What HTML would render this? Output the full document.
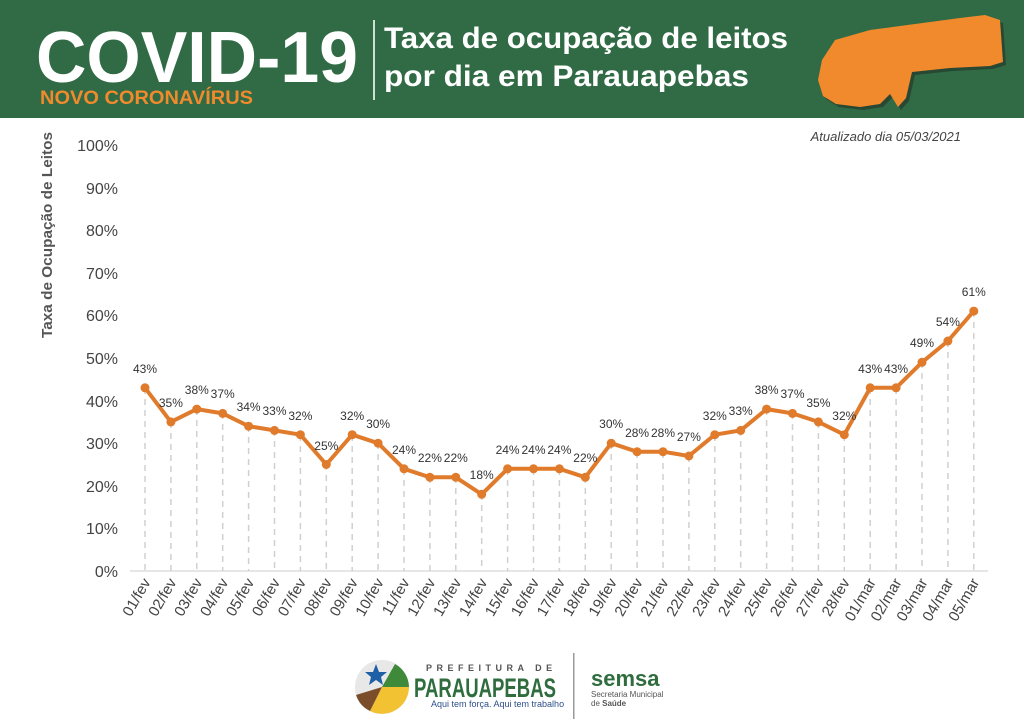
<!DOCTYPE html><html><head><meta charset="utf-8"><style>body{margin:0;width:1024px;height:722px;background:#fff;overflow:hidden;font-family:"Liberation Sans",sans-serif}</style></head><body>
<svg width="1024" height="722" xmlns="http://www.w3.org/2000/svg" font-family="Liberation Sans, sans-serif">
<rect x="0" y="0" width="1024" height="118" fill="#306b45"/>
<text x="36" y="82" font-size="72" font-weight="bold" fill="#fff" textLength="322" lengthAdjust="spacingAndGlyphs">COVID-19</text>
<text x="40" y="104" font-size="19" font-weight="bold" fill="#f08a2c" textLength="213" lengthAdjust="spacingAndGlyphs">NOVO CORONAVÍRUS</text>
<rect x="373" y="20" width="2" height="80" fill="#cfe0d2"/>
<text x="384" y="48" font-size="30" font-weight="bold" fill="#fff" textLength="404" lengthAdjust="spacingAndGlyphs">Taxa de ocupação de leitos</text>
<text x="384" y="86" font-size="30" font-weight="bold" fill="#fff" textLength="365" lengthAdjust="spacingAndGlyphs">por dia em Parauapebas</text>
<polygon points="835,40 870,30 900,26 930,22 960,18 985,15 1000,20 1003,62 990,66 950,68 912,72 906,98 898,107 890,94 880,104 860,107 836,104 823,96 818,80 822,60" fill="#202020" opacity="0.45" transform="translate(3,3)"/>
<polygon points="835,40 870,30 900,26 930,22 960,18 985,15 1000,20 1003,62 990,66 950,68 912,72 906,98 898,107 890,94 880,104 860,107 836,104 823,96 818,80 822,60" fill="#f08a2c"/>
<text x="961" y="141" font-size="13" font-style="italic" fill="#444" text-anchor="end">Atualizado dia 05/03/2021</text>
<text transform="translate(52,338) rotate(-90)" font-size="15" font-weight="bold" fill="#555" textLength="206" lengthAdjust="spacingAndGlyphs">Taxa de Ocupação de Leitos</text>
<g font-size="16" fill="#444" text-anchor="end">
<text x="118" y="577">0%</text><text x="118" y="534">10%</text><text x="118" y="492">20%</text><text x="118" y="449">30%</text><text x="118" y="407">40%</text><text x="118" y="364">50%</text><text x="118" y="321">60%</text><text x="118" y="279">70%</text><text x="118" y="236">80%</text><text x="118" y="194">90%</text><text x="118" y="151">100%</text>
</g>
<line x1="130" y1="571" x2="988" y2="571" stroke="#ddd" stroke-width="1.5"/>
<g stroke="#d0d0d0" stroke-width="1.5" stroke-dasharray="6,5">
<line x1="145" y1="388" x2="145" y2="571"/><line x1="170.9" y1="422" x2="170.9" y2="571"/><line x1="196.8" y1="409" x2="196.8" y2="571"/><line x1="222.7" y1="413" x2="222.7" y2="571"/><line x1="248.6" y1="426" x2="248.6" y2="571"/><line x1="274.5" y1="430" x2="274.5" y2="571"/><line x1="300.4" y1="435" x2="300.4" y2="571"/><line x1="326.3" y1="464" x2="326.3" y2="571"/><line x1="352.2" y1="435" x2="352.2" y2="571"/><line x1="378.1" y1="443" x2="378.1" y2="571"/><line x1="404" y1="469" x2="404" y2="571"/><line x1="429.9" y1="477" x2="429.9" y2="571"/><line x1="455.8" y1="477" x2="455.8" y2="571"/><line x1="481.7" y1="494" x2="481.7" y2="571"/><line x1="507.6" y1="469" x2="507.6" y2="571"/><line x1="533.5" y1="469" x2="533.5" y2="571"/><line x1="559.4" y1="469" x2="559.4" y2="571"/><line x1="585.3" y1="477" x2="585.3" y2="571"/><line x1="611.2" y1="443" x2="611.2" y2="571"/><line x1="637.1" y1="452" x2="637.1" y2="571"/><line x1="663" y1="452" x2="663" y2="571"/><line x1="688.9" y1="456" x2="688.9" y2="571"/><line x1="714.8" y1="435" x2="714.8" y2="571"/><line x1="740.7" y1="430" x2="740.7" y2="571"/><line x1="766.6" y1="409" x2="766.6" y2="571"/><line x1="792.5" y1="413" x2="792.5" y2="571"/><line x1="818.4" y1="422" x2="818.4" y2="571"/><line x1="844.3" y1="435" x2="844.3" y2="571"/><line x1="870.2" y1="388" x2="870.2" y2="571"/><line x1="896.1" y1="388" x2="896.1" y2="571"/><line x1="922" y1="362" x2="922" y2="571"/><line x1="947.9" y1="341" x2="947.9" y2="571"/><line x1="973.8" y1="311" x2="973.8" y2="571"/>
</g>
<polyline fill="none" stroke="#e07b2c" stroke-width="4" stroke-linejoin="round" points="145,387.8 170.9,421.9 196.8,409.1 222.7,413.4 248.6,426.2 274.5,430.4 300.4,434.7 326.3,464.5 352.2,434.7 378.1,443.2 404,468.8 429.9,477.3 455.8,477.3 481.7,494.3 507.6,468.8 533.5,468.8 559.4,468.8 585.3,477.3 611.2,443.2 637.1,451.7 663,451.7 688.9,456 714.8,434.7 740.7,430.4 766.6,409.1 792.5,413.4 818.4,421.9 844.3,434.7 870.2,387.8 896.1,387.8 922,362.3 947.9,341 973.8,311.1"/>
<g fill="#e07b2c">
<circle cx="145" cy="387.8" r="4.5"/><circle cx="170.9" cy="421.9" r="4.5"/><circle cx="196.8" cy="409.1" r="4.5"/><circle cx="222.7" cy="413.4" r="4.5"/><circle cx="248.6" cy="426.2" r="4.5"/><circle cx="274.5" cy="430.4" r="4.5"/><circle cx="300.4" cy="434.7" r="4.5"/><circle cx="326.3" cy="464.5" r="4.5"/><circle cx="352.2" cy="434.7" r="4.5"/><circle cx="378.1" cy="443.2" r="4.5"/><circle cx="404" cy="468.8" r="4.5"/><circle cx="429.9" cy="477.3" r="4.5"/><circle cx="455.8" cy="477.3" r="4.5"/><circle cx="481.7" cy="494.3" r="4.5"/><circle cx="507.6" cy="468.8" r="4.5"/><circle cx="533.5" cy="468.8" r="4.5"/><circle cx="559.4" cy="468.8" r="4.5"/><circle cx="585.3" cy="477.3" r="4.5"/><circle cx="611.2" cy="443.2" r="4.5"/><circle cx="637.1" cy="451.7" r="4.5"/><circle cx="663" cy="451.7" r="4.5"/><circle cx="688.9" cy="456" r="4.5"/><circle cx="714.8" cy="434.7" r="4.5"/><circle cx="740.7" cy="430.4" r="4.5"/><circle cx="766.6" cy="409.1" r="4.5"/><circle cx="792.5" cy="413.4" r="4.5"/><circle cx="818.4" cy="421.9" r="4.5"/><circle cx="844.3" cy="434.7" r="4.5"/><circle cx="870.2" cy="387.8" r="4.5"/><circle cx="896.1" cy="387.8" r="4.5"/><circle cx="922" cy="362.3" r="4.5"/><circle cx="947.9" cy="341" r="4.5"/><circle cx="973.8" cy="311.1" r="4.5"/>
</g>
<g font-size="12" fill="#333" text-anchor="middle">
<text x="145" y="373">43%</text><text x="170.9" y="407">35%</text><text x="196.8" y="394">38%</text><text x="222.7" y="398">37%</text><text x="248.6" y="411">34%</text><text x="274.5" y="415">33%</text><text x="300.4" y="420">32%</text><text x="326.3" y="450">25%</text><text x="352.2" y="420">32%</text><text x="378.1" y="428">30%</text><text x="404" y="454">24%</text><text x="429.9" y="462">22%</text><text x="455.8" y="462">22%</text><text x="481.7" y="479">18%</text><text x="507.6" y="454">24%</text><text x="533.5" y="454">24%</text><text x="559.4" y="454">24%</text><text x="585.3" y="462">22%</text><text x="611.2" y="428">30%</text><text x="637.1" y="437">28%</text><text x="663" y="437">28%</text><text x="688.9" y="441">27%</text><text x="714.8" y="420">32%</text><text x="740.7" y="415">33%</text><text x="766.6" y="394">38%</text><text x="792.5" y="398">37%</text><text x="818.4" y="407">35%</text><text x="844.3" y="420">32%</text><text x="870.2" y="373">43%</text><text x="896.1" y="373">43%</text><text x="922" y="347">49%</text><text x="947.9" y="326">54%</text><text x="973.8" y="296">61%</text>
</g>
<g font-size="15" fill="#444" text-anchor="end">
<text transform="translate(151,582) rotate(-60)">01/fev</text><text transform="translate(176.9,582) rotate(-60)">02/fev</text><text transform="translate(202.8,582) rotate(-60)">03/fev</text><text transform="translate(228.7,582) rotate(-60)">04/fev</text><text transform="translate(254.6,582) rotate(-60)">05/fev</text><text transform="translate(280.5,582) rotate(-60)">06/fev</text><text transform="translate(306.4,582) rotate(-60)">07/fev</text><text transform="translate(332.3,582) rotate(-60)">08/fev</text><text transform="translate(358.2,582) rotate(-60)">09/fev</text><text transform="translate(384.1,582) rotate(-60)">10/fev</text><text transform="translate(410,582) rotate(-60)">11/fev</text><text transform="translate(435.9,582) rotate(-60)">12/fev</text><text transform="translate(461.8,582) rotate(-60)">13/fev</text><text transform="translate(487.7,582) rotate(-60)">14/fev</text><text transform="translate(513.6,582) rotate(-60)">15/fev</text><text transform="translate(539.5,582) rotate(-60)">16/fev</text><text transform="translate(565.4,582) rotate(-60)">17/fev</text><text transform="translate(591.3,582) rotate(-60)">18/fev</text><text transform="translate(617.2,582) rotate(-60)">19/fev</text><text transform="translate(643.1,582) rotate(-60)">20/fev</text><text transform="translate(669,582) rotate(-60)">21/fev</text><text transform="translate(694.9,582) rotate(-60)">22/fev</text><text transform="translate(720.8,582) rotate(-60)">23/fev</text><text transform="translate(746.7,582) rotate(-60)">24/fev</text><text transform="translate(772.6,582) rotate(-60)">25/fev</text><text transform="translate(798.5,582) rotate(-60)">26/fev</text><text transform="translate(824.4,582) rotate(-60)">27/fev</text><text transform="translate(850.3,582) rotate(-60)">28/fev</text><text transform="translate(876.2,582) rotate(-60)">01/mar</text><text transform="translate(902.1,582) rotate(-60)">02/mar</text><text transform="translate(928,582) rotate(-60)">03/mar</text><text transform="translate(953.9,582) rotate(-60)">04/mar</text><text transform="translate(979.8,582) rotate(-60)">05/mar</text>
</g>
<circle cx="382" cy="687" r="27" fill="#e8e8e8"/>
<path d="M382,687 L409,687 A27,27 0 0 1 370,711 Z" fill="#f3c232"/>
<path d="M382,687 L370,711 A27,27 0 0 1 356,695 Z" fill="#7a4e2a"/>
<path d="M382,687 L409,687 A27,27 0 0 0 395,664 Z" fill="#3f8a3a"/>
<polygon points="376,664 379,672 387,672 381,677 383,685 376,680 369,685 371,677 365,672 373,672" fill="#1f5fa6"/>
<text x="426" y="671" font-size="9" font-weight="bold" fill="#555" letter-spacing="4.5">PREFEITURA DE</text>
<text x="414" y="697" font-size="27" font-weight="bold" fill="#2f6d3f" textLength="142" lengthAdjust="spacingAndGlyphs">PARAUAPEBAS</text>
<text x="431" y="707" font-size="9" fill="#2e4f8a">Aqui tem força. Aqui tem trabalho</text>
<rect x="573" y="653" width="1.5" height="66" fill="#999"/>
<text x="591" y="686" font-size="22" font-weight="bold" fill="#2f6d3f">semsa</text>
<text x="591" y="697" font-size="8" fill="#555">Secretaria Municipal</text>
<text x="591" y="706" font-size="8" fill="#555">de <tspan font-weight="bold">Saúde</tspan></text>
</svg>
</body></html>
